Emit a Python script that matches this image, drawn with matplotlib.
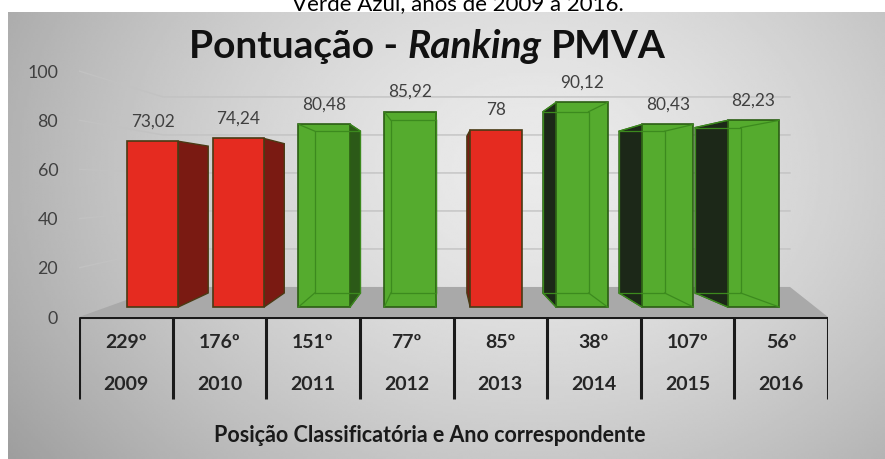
import numpy as np
import matplotlib
matplotlib.use('Agg')
import matplotlib.pyplot as plt
from matplotlib.patches import Polygon

plt.rcParams['font.family'] = ['Lato', 'DejaVu Sans']

# Dados do gráfico
anos = ['2009', '2010', '2011', '2012', '2013', '2014', '2015', '2016']
posicoes = ['229º', '176º', '151º', '77º', '85º', '38º', '107º', '56º']
pontuacao = [73.02, 74.24, 80.48, 85.92, 78, 90.12, 80.43, 82.23]
rotulos = ['73,02', '74,24', '80,48', '85,92', '78', '90,12', '80,43', '82,23']

W, H = 885, 459


def rect(x0, y0, x1, y1):
    # pixel box (y measured from top) -> figure fraction
    return [x0 / W, 1 - y1 / H, (x1 - x0) / W, (y1 - y0) / H]


fig = plt.figure(figsize=(W / 100, H / 100), dpi=100, facecolor='white')

# painel de fundo com degradê cinza
bg = fig.add_axes(rect(8, 12, W, H), zorder=0)
yy, xx = np.mgrid[0:1:200j, 0:1:400j]
r = np.sqrt(((xx - 0.6) / 0.6) ** 2 + ((yy - 0.35) / 0.9) ** 2)
shade = 0.92 - 0.22 * np.clip(r, 0, 1.3) ** 1.5
bg.imshow(shade, cmap='gray', vmin=0, vmax=1, aspect='auto', interpolation='bilinear')
bg.axis('off')

# eixo das barras (perspectiva aproximada do gráfico 3D)
x_c0, x_step = 152.5, 85.86     # centro da 1a barra e espaçamento (px)
y_base, y_scale = 307, 2.27     # base das barras e px por ponto
ax = fig.add_axes(rect(79, 40, 828, 317), zorder=2)
ax.set_xlim((79 - x_c0) / x_step, (828 - x_c0) / x_step)
ax.set_ylim((y_base - 317) / y_scale, (y_base - 40) / y_scale)
ax.axis('off')

# eixo só com os rótulos 0..100
ax_lab = fig.add_axes(rect(79, 71, 80, 317), zorder=1)
ax_lab.set_ylim(0, 100)
ax_lab.set_yticks(range(0, 101, 20))
ax_lab.set_xticks([])
for s in ax_lab.spines.values():
    s.set_visible(False)
ax_lab.patch.set_visible(False)
ax_lab.tick_params(axis='y', length=0, pad=15, labelsize=12.8, labelcolor='#404040')

vpx, vpy = (441 - x_c0) / x_step, (y_base - 184) / y_scale   # ponto de fuga
s_bar, s_wall = 0.886, 0.837
wall_x0, wall_x1 = (163 - x_c0) / x_step, (790 - x_c0) / x_step
xmin, xmax = ax.get_xlim()
ymin = ax.get_ylim()[0]
floor_y = vpy * (1 - s_wall)

# linhas de grade (parede lateral + fundo)
for v in range(20, 101, 20):
    fx, fy = ax.transData.inverted().transform(ax_lab.transData.transform((0, v)))
    by = vpy + (v - vpy) * s_wall
    ax.plot([fx, wall_x0, wall_x1], [fy, by, by], color='#c2c2c2', lw=1, zorder=1)

# piso
ax.add_patch(Polygon([(xmin, ymin), (xmax, ymin), (wall_x1, floor_y), (wall_x0, floor_y)],
                     closed=True, facecolor='#a9a9a9', edgecolor='none', zorder=2))

idx = np.arange(len(anos))
w = 0.6
front = ['#e52b20' if v < 80 else '#55ab2e' for v in pontuacao]
edges = ['#4a3a14' if v < 80 else '#2b5e14' for v in pontuacao]

for i, v in zip(idx, pontuacao):
    fl, fr = i - w / 2, i + w / 2
    bl, br = vpx + (fl - vpx) * s_bar, vpx + (fr - vpx) * s_bar
    bb, bt = vpy + (0 - vpy) * s_bar, vpy + (v - vpy) * s_bar
    red = v < 80
    if br > fr:
        side = [(fr, 0), (fr, v), (br, bt), (br, bb)]
        col = '#7a1a12' if red else '#2c5a18'
    else:
        side = [(fl, 0), (fl, v), (bl, bt), (bl, bb)]
        col = '#7a1a12' if red else '#1c2818'
    ax.add_patch(Polygon(side, closed=True, facecolor=col, edgecolor=edges[i], lw=1, zorder=3))
    if not red:
        # arestas internas (barras verdes translúcidas)
        ax.plot([bl, br, br, bl, bl], [bb, bb, bt, bt, bb], color='#3c8a1e', lw=0.9, zorder=5)
        for (x1, y1), (x2, y2) in [((fl, 0), (bl, bb)), ((fr, 0), (br, bb)),
                                   ((fl, v), (bl, bt)), ((fr, v), (br, bt))]:
            ax.plot([x1, x2], [y1, y2], color='#3c8a1e', lw=0.9, zorder=5)

ax.bar(idx, pontuacao, width=w, color=front, edgecolor=edges, linewidth=1.2, zorder=4)

for i, v, t in zip(idx, pontuacao, rotulos):
    ax.annotate(t, (i, v), xytext=(0, 14.4), textcoords='offset points',
                ha='center', va='center', fontsize=12.4, color='#404040', zorder=6)

# tabela abaixo do gráfico
tab = fig.add_axes(rect(79, 317, 828, H), zorder=2)
tab.set_xlim(0, 8)
tab.set_ylim(H - 317, 0)
tab.axis('off')
tab.plot([0, 8], [0, 0], color='#1a1a1a', lw=2.2, solid_capstyle='butt')
tab.vlines(range(len(anos) + 1), 0, 82, color='#1a1a1a', lw=2.2)
for i, (p, a) in enumerate(zip(posicoes, anos)):
    tab.text(i + 0.5, 26, p, ha='center', va='center', fontsize=14, fontweight='bold', color='#262626')
    tab.text(i + 0.5, 68, a, ha='center', va='center', fontsize=14, fontweight='bold', color='#262626')
tab.text((430 - 79) / 93.6, 119, 'Posição Classificatória e Ano correspondente',
         ha='center', va='center', fontsize=15.5, fontweight='bold', color='#1a1a1a')

# texto cortado no topo
fig.text(458 / W, 1 - 10 / H, 'Verde Azul, anos de 2009 a 2016.', ha='center', va='baseline',
         fontsize=16, color='black')

# título com "Ranking" em itálico
renderer = fig.canvas.get_renderer()
partes = [('Pontuação -', 'normal'), ('Ranking', 'italic'), ('PMVA', 'normal')]
ty = 1 - 58 / H
pecas = [fig.text(0, ty, s, fontsize=28, fontweight='bold', style=st, va='baseline', color='#111111')
         for s, st in partes]
t1 = fig.text(0, 0, 'P P', fontsize=28, fontweight='bold')
t2 = fig.text(0, 0, 'PP', fontsize=28, fontweight='bold')
espaco = t1.get_window_extent(renderer).width - t2.get_window_extent(renderer).width
t1.remove()
t2.remove()
larguras = [p.get_window_extent(renderer).width for p in pecas]
x = 427.5 - (sum(larguras) + 2 * espaco) / 2
for p, lw in zip(pecas, larguras):
    p.set_x(x / W)
    x += lw + espaco

fig.savefig('out.png', dpi=100)
